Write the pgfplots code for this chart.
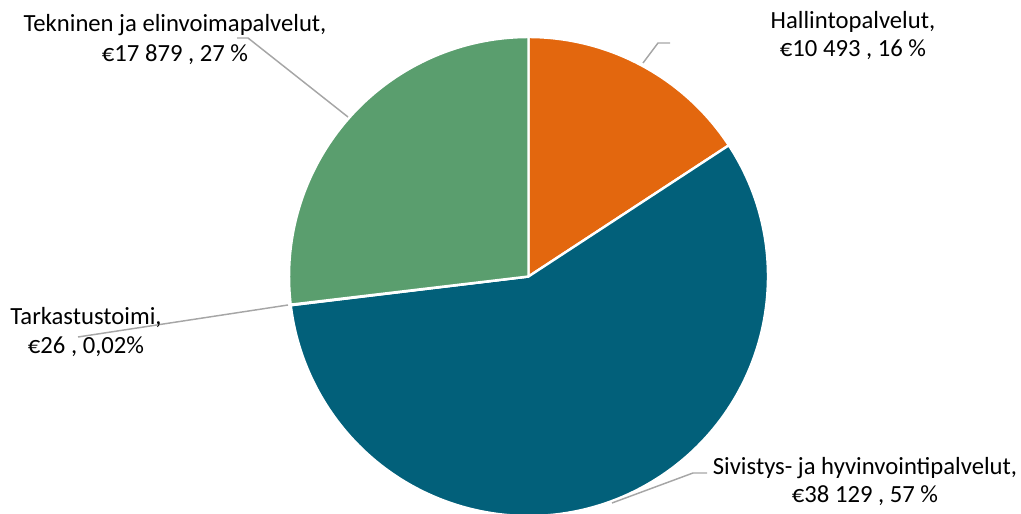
\documentclass[border=0pt]{standalone}
\usepackage{pgfplots}
\usepackage{pgfplotstable}
\pgfplotsset{compat=1.18}
\usepackage{fontspec}
\setmainfont{Carlito}
\definecolor{Orange}{HTML}{E3670E}
\definecolor{Teal}{HTML}{02607A}
\definecolor{Green}{HTML}{5A9E6E}
\definecolor{Tiny}{HTML}{7F7F7F}
\definecolor{Leader}{HTML}{A6A6A6}
\tikzset{
  lbl/.style={font=\fontsize{18.5}{22}\selectfont,anchor=base,inner sep=0pt},
  wedge/.style={draw=white,line width=1.8pt,line join=round}}

% slice values in clockwise order from 12 o'clock
\pgfplotstableread{
name value
Hallinto 10493
Sivistys 38129
Tarkastus 26
Tekninen 17879
}\piedata

\begin{document}
\begin{tikzpicture}
\pgfplotstablegetelem{0}{value}\of\piedata\let\vA\pgfplotsretval
\pgfplotstablegetelem{1}{value}\of\piedata\let\vB\pgfplotsretval
\pgfplotstablegetelem{2}{value}\of\piedata\let\vC\pgfplotsretval
\pgfplotstablegetelem{3}{value}\of\piedata\let\vD\pgfplotsretval
\edef\total{\fpeval{\vA+\vB+\vC+\vD}}
\edef\aA{90}
\edef\aB{\fpeval{\aA-360*\vA/\total}}
\edef\aC{\fpeval{\aB-360*\vB/\total}}
\edef\aD{\fpeval{\aC-360*\vC/\total}}
\edef\aE{\fpeval{\aD-360*\vD/\total}}
\def\R{179.6pt}
\begin{axis}[
  width=765.75pt,height=385.5pt,scale only axis,
  xmin=0,xmax=1021,ymin=0,ymax=514,hide axis]
\path (axis cs:0,0) rectangle (axis cs:1021,514);
\fill[Orange,wedge] (axis cs:528.5,237.5) -- ++(\aA:\R) arc[start angle=\aA,end angle=\aB,radius=\R] -- cycle;
\fill[Teal,wedge] (axis cs:528.5,237.5) -- ++(\aB:\R) arc[start angle=\aB,end angle=\aC,radius=\R] -- cycle;
\fill[Tiny,wedge] (axis cs:528.5,237.5) -- ++(\aC:\R) arc[start angle=\aC,end angle=\aD,radius=\R] -- cycle;
\fill[Green,wedge] (axis cs:528.5,237.5) -- ++(\aD:\R) arc[start angle=\aD,end angle=\aE,radius=\R] -- cycle;
% leader lines
\draw[Leader,line width=1.1pt] (axis cs:237,476) -- (axis cs:248,476) -- (axis cs:348,397);
\draw[Leader,line width=1.1pt] (axis cs:670,471) -- (axis cs:658,471) -- (axis cs:643,451);
\draw[Leader,line width=1.1pt] (axis cs:78,177) -- (axis cs:288,209);
\draw[Leader,line width=1.1pt] (axis cs:707,41) -- (axis cs:693,41) -- (axis cs:612,11);
% labels
\node[lbl] at (axis cs:175,482) {Tekninen ja elinvoimapalvelut,};
\node[lbl] at (axis cs:175,452) {€17~879 , 27~\%};
\node[lbl] at (axis cs:853,485) {Hallintopalvelut,};
\node[lbl] at (axis cs:853,457) {€10~493 , 16~\%};
\node[lbl] at (axis cs:86,189) {Tarkastustoimi,};
\node[lbl] at (axis cs:86,160) {€26 , 0,02\%};
\node[lbl] at (axis cs:865,39) {Sivistys- ja hyvinvointipalvelut,};
\node[lbl] at (axis cs:865,11) {€38~129 , 57~\%};
\end{axis}
\end{tikzpicture}
\end{document}
